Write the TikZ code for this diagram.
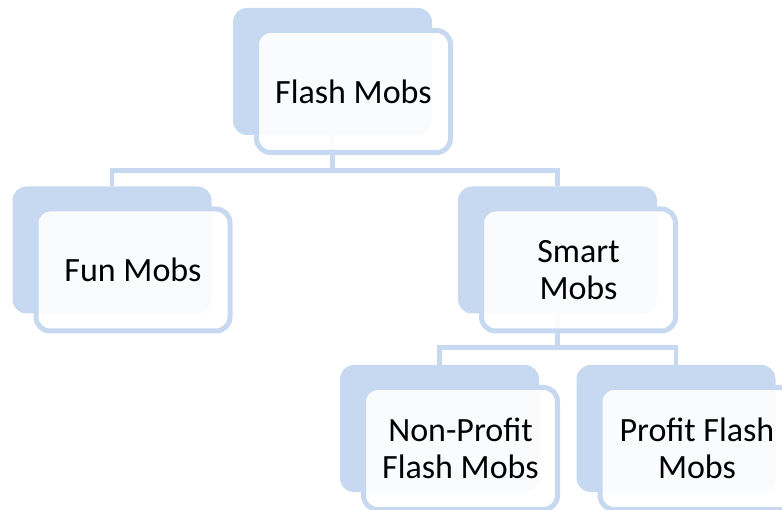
\documentclass[tikz,border=0pt]{standalone}
\usepackage{fontspec}
\setmainfont{Carlito}
\usetikzlibrary{positioning}
\definecolor{mobblue}{HTML}{C6D9F1}
\tikzset{
    backbox/.style={
           rectangle,
           rounded corners=14pt,
           fill=mobblue,
           minimum width=199pt, minimum height=127pt,
           inner sep=0pt,
           },
}
\tikzset{
    frontbox/.style={
           rectangle,
           rounded corners=14pt,
           draw=mobblue, line width=5pt,
           fill=white, fill opacity=0.9, text opacity=1,
           minimum width=194pt, minimum height=122pt,
           inner sep=0pt,
           align=center,
           font=\fontsize{34}{37}\selectfont,
           xshift=21pt, yshift=-20pt,
           },
}
\tikzset{
    link/.style={
           draw=mobblue, line width=4.7pt,
           },
}

\begin{document}
\begin{tikzpicture}[x=1pt,y=-1pt]
\useasboundingbox (0,0) rectangle (782,510);
% back layer
\node[backbox](flashB) at (332.5,71.5){};
\node[backbox](funB) at (112,250){};
\node[backbox](smartB) at (557.5,250){};
\node[backbox](nonB) at (439.5,428.5){};
\node[backbox](profitB) at (676,428.5){};
% connectors
\draw[link] (flashB.south) -- ++(0,35) -| (funB.north);
\draw[link] (flashB.south) -- ++(0,35) -| (smartB.north);
\draw[link] (smartB.south) -- ++(0,34) -| (nonB.north);
\draw[link] (smartB.south) -- ++(0,34) -| (profitB.north);
% front layer
\node[frontbox](flash) at (flashB){Flash Mobs};
\node[frontbox](fun) at (funB){Fun Mobs};
\node[frontbox](smart) at (smartB){Smart\\Mobs};
\node[frontbox](non) at (nonB){Non-Profit\\Flash Mobs};
\node[frontbox](profit) at (profitB){Profit Flash\\Mobs};
\end{tikzpicture}
\end{document}
